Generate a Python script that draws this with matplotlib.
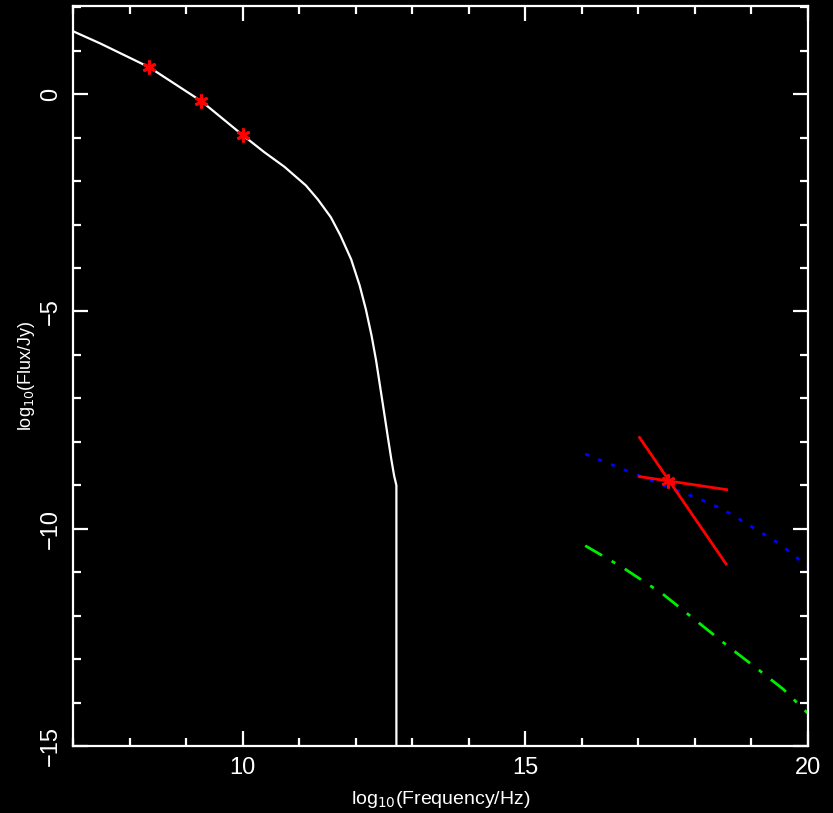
import matplotlib
matplotlib.use('Agg')
import matplotlib.pyplot as plt
from matplotlib.ticker import MultipleLocator

# synchrotron model curve (white)
model_x = [7.0, 7.48, 8.35, 9.27, 10.02, 10.38, 10.74, 11.12, 11.33, 11.56, 11.73,
           11.92, 12.07, 12.18, 12.28, 12.36, 12.43, 12.50, 12.57, 12.63, 12.68,
           12.72, 12.72]
model_y = [1.45, 1.17, 0.62, -0.16, -0.96, -1.33, -1.67, -2.10, -2.42, -2.83, -3.25,
           -3.8, -4.40, -4.95, -5.55, -6.12, -6.71, -7.3, -7.9, -8.4, -8.78,
           -9.0, -16.0]

# radio points (red stars)
radio_x = [8.35, 9.27, 10.0]
radio_y = [0.62, -0.16, -0.94]

# X-ray point and bow-tie
xray_x = [17.53]
xray_y = [-8.89]
bow_steep_x = [17.02, 18.55]
bow_steep_y = [-7.9, -10.81]
bow_flat_x = [17.02, 18.56]
bow_flat_y = [-8.8, -9.10]

# blue dotted
blue_x = [16.06, 17.01, 18.11, 18.49, 18.99, 19.50, 20.00]
blue_y = [-8.28, -8.78, -9.33, -9.55, -9.94, -10.35, -10.87]

# green dash-dot
green_x = [16.06, 16.72, 17.43, 18.14, 18.61, 19.08, 19.56, 20.03]
green_y = [-10.39, -10.89, -11.5, -12.24, -12.73, -13.2, -13.69, -14.29]

plt.rcParams['font.family'] = ['Liberation Sans', 'DejaVu Sans']

fig = plt.figure(figsize=(8.33, 8.13), dpi=100, facecolor='black')
ax = fig.add_axes([0.0876, 0.0824, 0.8824, 0.9102])
ax.set_facecolor('black')

ax.plot(model_x, model_y, color='white', lw=1.6)
ax.plot(blue_x, blue_y, color='blue', lw=2, linestyle=(0, (1.5, 3.5)))
ax.plot(green_x, green_y, color='#00ee00', lw=2, linestyle=(0, (7, 4, 1.5, 4)))
ax.plot(bow_steep_x, bow_steep_y, color='red', lw=2)
ax.plot(bow_flat_x, bow_flat_y, color='red', lw=2)
ax.plot(radio_x, radio_y, linestyle='none', marker=(6, 2, 0), markersize=10,
        markeredgecolor='red', markeredgewidth=2)
ax.plot(xray_x, xray_y, linestyle='none', marker=(6, 2, 0), markersize=10,
        markeredgecolor='red', markeredgewidth=2)

ax.set_xlim(7, 20)
ax.set_ylim(-15, 2.03)

ax.xaxis.set_major_locator(MultipleLocator(5))
ax.xaxis.set_minor_locator(MultipleLocator(1))
ax.yaxis.set_major_locator(MultipleLocator(5))
ax.yaxis.set_minor_locator(MultipleLocator(1))

for s in ax.spines.values():
    s.set_color('white')
    s.set_linewidth(1.6)

ax.tick_params(which='both', direction='in', colors='white', top=True, right=True, width=1.6)
ax.tick_params(which='major', length=11, labelsize=17, pad=8)
ax.tick_params(which='minor', length=6)
for lab in ax.get_yticklabels():
    lab.set_rotation(90)
    lab.set_va('center')

ax.set_xlabel(r'log$_{10}$(Frequency/Hz)', color='white', fontsize=14, labelpad=7)
ax.set_ylabel(r'log$_{10}$(Flux/Jy)', color='white', fontsize=13, labelpad=2)

fig.savefig('out.png', dpi=100, facecolor='black')
